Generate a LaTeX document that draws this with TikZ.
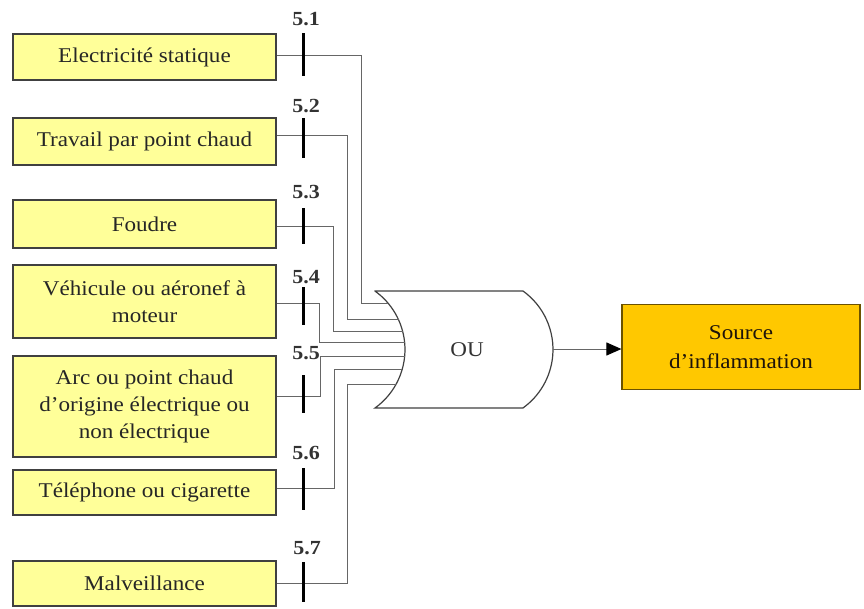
\documentclass[tikz,border=0pt]{standalone}
\usepackage{fontspec}
\setmainfont{Liberation Serif}[FakeStretch=1.1]
\usetikzlibrary{arrows.meta}
\definecolor{boxyellow}{HTML}{FFFF99}
\definecolor{boxedge}{HTML}{404040}
\definecolor{srcgold}{HTML}{FFC800}
\definecolor{srcedge}{HTML}{6B5200}
\tikzset{
  cause/.style={draw=boxedge,line width=1.2pt,fill=boxyellow,minimum width=263pt,
    align=center,inner sep=2pt,text=black!85,font=\fontsize{21}{27}\selectfont},
  wire/.style={draw=black!60,line width=1pt},
  tickbar/.style={line width=3pt,black},
  lbl/.style={font=\fontsize{20}{22}\selectfont\bfseries,text=black!80},
}
\begin{document}
\begin{tikzpicture}[x=1pt,y=-1pt]
  \useasboundingbox (0,0) rectangle (864,608);
  % causes
  \node[cause,minimum height=46pt] (b1) at (144.5,57) {Electricité statique};
  \node[cause,minimum height=47pt] (b2) at (144.5,141.5) {Travail par point chaud};
  \node[cause,minimum height=48pt] (b3) at (144.5,224) {Foudre};
  \node[cause,minimum height=73pt] (b4) at (144.5,301.5) {Véhicule ou aéronef à\\moteur};
  \node[cause,minimum height=101pt] (b5) at (144.5,406.5) {Arc ou point chaud\\d’origine électrique ou\\non électrique};
  \node[cause,minimum height=45pt] (b6) at (144.5,492.5) {Téléphone ou cigarette};
  \node[cause,minimum height=45pt] (b7) at (144.5,583.5) {Malveillance};
  % OU gate
  \draw[black!75,line width=1.2pt,fill=white] (375,291) -- (523,291)
    arc[start angle=-54.3,end angle=54.3,radius=72] -- (375,408)
    arc[start angle=54.3,end angle=-54.3,radius=72] -- cycle;
  \node[font=\fontsize{21}{24}\selectfont,text=black!80] (ou) at (467,350) {OU};
  \coordinate (in1) at (388.4,303);
  \coordinate (in2) at (398.5,319);
  \coordinate (in3) at (402.7,331);
  \coordinate (in4) at (404.7,342);
  \coordinate (in5) at (404.7,356);
  \coordinate (in6) at (402.2,369);
  \coordinate (in7) at (395.9,384);
  \coordinate (out) at (553,349);
  % result
  \node[draw=srcedge,line width=1.2pt,fill=srcgold,minimum width=238pt,minimum height=85pt,
    align=center,text=black!85!brown,font=\fontsize{21}{29}\selectfont] (src) at (741,347)
    {Source\\d’inflammation};
  % wires
  \draw[wire] ([yshift=2pt]b1.east) -- ++(85,0) |- (in1);
  \draw[wire] ([yshift=6.5pt]b2.east) -- ++(71,0) |- (in2);
  \draw[wire] ([yshift=-2pt]b3.east) -- ++(57,0) |- (in3);
  \draw[wire] ([yshift=-1.5pt]b4.east) -- ++(43,0) |- (in4);
  \draw[wire] ([yshift=10.5pt]b5.east) -- ++(44,0) |- (in5);
  \draw[wire] ([yshift=4.5pt]b6.east) -- ++(58,0) |- (in6);
  \draw[wire] (b7.east) -- ++(71,0) |- (in7);
  \draw[wire,-{Triangle[length=15pt,width=13pt,black]}] (out) -- (out -| src.west);
  % events
  \draw[tickbar] (303,33) -- (303,76);
  \draw[tickbar] (303,118) -- (303,158);
  \draw[tickbar] (303,208) -- (303,244);
  \draw[tickbar] (303,287) -- (303,325);
  \draw[tickbar] (303,375) -- (303,413);
  \draw[tickbar] (303,468) -- (303,510);
  \draw[tickbar] (303,562) -- (303,602);
  \node[lbl] (e1) at (306,19) {5.1};
  \node[lbl] (e2) at (306,106) {5.2};
  \node[lbl] (e3) at (306,192) {5.3};
  \node[lbl] (e4) at (306,277) {5.4};
  \node[lbl] (e5) at (306,353) {5.5};
  \node[lbl] (e6) at (306,453) {5.6};
  \node[lbl] (e7) at (307,548) {5.7};
\end{tikzpicture}
\end{document}
